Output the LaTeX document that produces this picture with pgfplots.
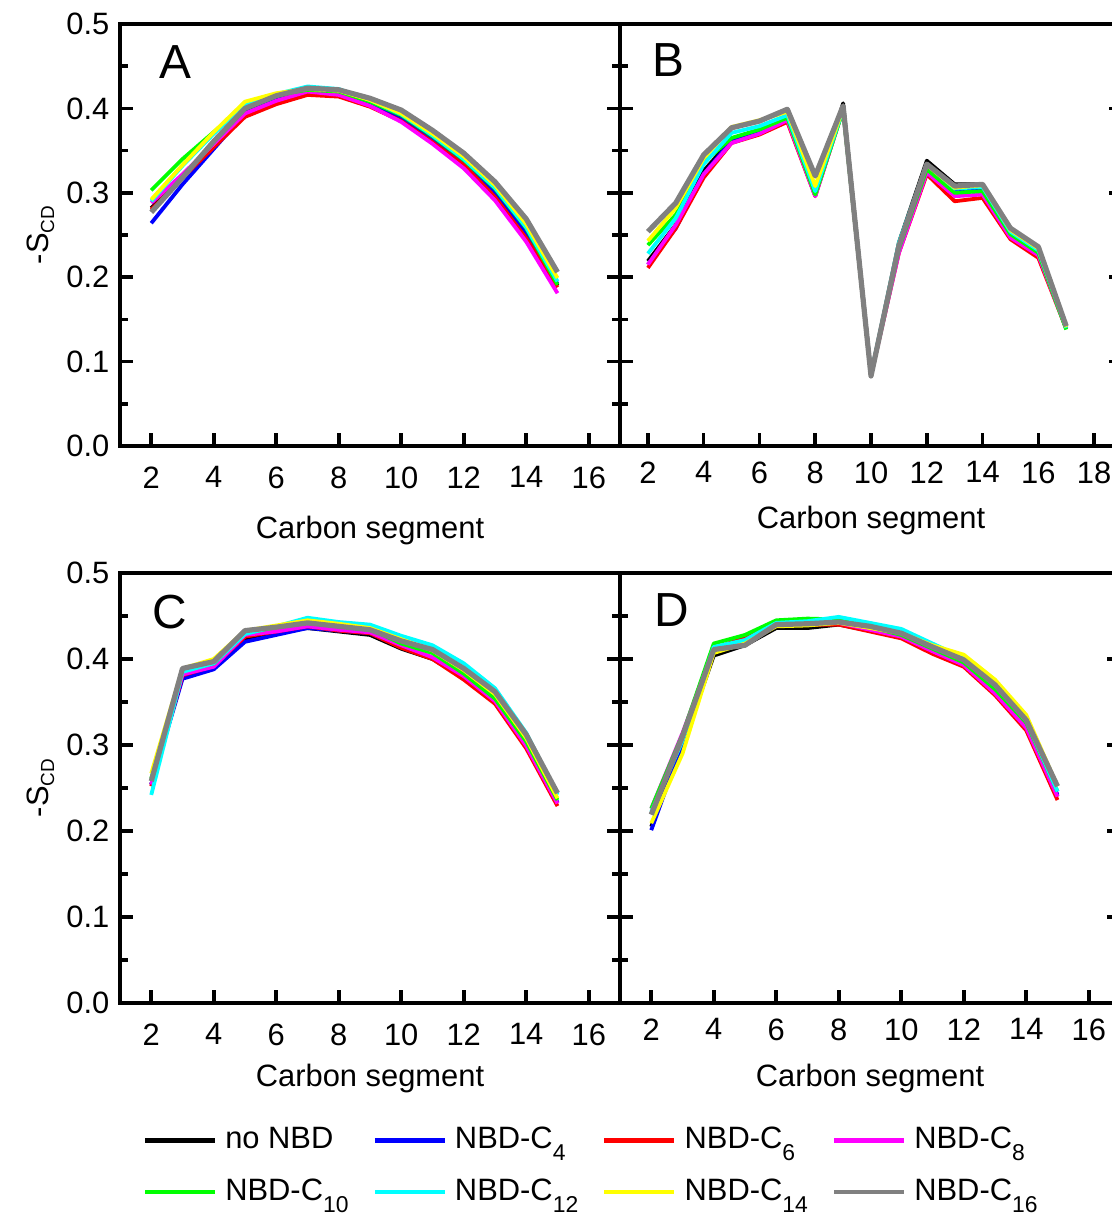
\documentclass[border=0pt]{standalone}
\usepackage{fontspec}
\setmainfont{Liberation Sans}
\usepackage{pgfplots}
\usepackage{pgfplotstable}
\pgfplotsset{compat=1.18}

\definecolor{cgray}{RGB}{128,128,128}
\definecolor{cgreen}{RGB}{0,255,0}
\definecolor{ccyan}{RGB}{0,255,255}
\definecolor{cyellow}{RGB}{255,255,0}
\definecolor{cmag}{RGB}{255,0,255}
\definecolor{cblue}{RGB}{0,0,255}
\definecolor{cred}{RGB}{255,0,0}

\newcommand{\sub}[1]{\raisebox{-6bp}{\fontsize{11.5}{12}\selectfont #1}}
\newcommand{\ysub}{\raisebox{-3bp}{\fontsize{9.5}{10}\selectfont CD}}

\pgfplotstableread{
x  k     b     r     m     g     c     y     gr
2  0.282 0.264 0.280 0.288 0.303 0.290 0.292 0.277
3  0.320 0.310 0.318 0.322 0.340 0.332 0.333 0.318
4  0.358 0.352 0.354 0.358 0.372 0.370 0.372 0.361
5  0.395 0.394 0.390 0.394 0.403 0.404 0.408 0.400
6  0.410 0.410 0.405 0.409 0.416 0.417 0.418 0.415
7  0.420 0.420 0.416 0.420 0.422 0.426 0.423 0.424
8  0.418 0.418 0.414 0.416 0.420 0.423 0.421 0.422
9  0.406 0.405 0.402 0.403 0.408 0.410 0.410 0.412
10 0.388 0.387 0.385 0.384 0.392 0.393 0.394 0.398
11 0.363 0.362 0.360 0.358 0.367 0.368 0.370 0.374
12 0.335 0.334 0.333 0.329 0.339 0.340 0.343 0.347
13 0.300 0.300 0.295 0.291 0.305 0.306 0.309 0.313
14 0.253 0.252 0.246 0.242 0.258 0.259 0.263 0.269
15 0.190 0.192 0.188 0.181 0.191 0.195 0.199 0.206
}\tA

\pgfplotstableread{
x  k     b     r     m     g     c     y     gr
2  0.219 0.215 0.211 0.215 0.238 0.228 0.243 0.254
3  0.262 0.258 0.258 0.262 0.274 0.270 0.282 0.288
4  0.326 0.322 0.318 0.322 0.336 0.334 0.341 0.345
5  0.363 0.362 0.359 0.359 0.365 0.371 0.378 0.377
6  0.372 0.371 0.369 0.370 0.375 0.379 0.386 0.385
7  0.387 0.386 0.384 0.386 0.389 0.392 0.396 0.399
8  0.298 0.297 0.296 0.296 0.298 0.302 0.308 0.320
9  0.406 0.401 0.399 0.399 0.398 0.399 0.400 0.403
10 0.084 0.084 0.084 0.084 0.084 0.084 0.083 0.083
11 0.241 0.236 0.229 0.229 0.234 0.241 0.238 0.237
12 0.338 0.332 0.322 0.324 0.328 0.334 0.333 0.334
13 0.310 0.304 0.290 0.296 0.300 0.305 0.306 0.308
14 0.310 0.306 0.294 0.298 0.302 0.307 0.309 0.310
15 0.254 0.252 0.245 0.247 0.251 0.254 0.256 0.258
16 0.231 0.230 0.223 0.226 0.229 0.232 0.234 0.236
17 0.141 0.140 0.139 0.139 0.138 0.140 0.141 0.142
}\tB

\pgfplotstableread{
x  k     b     r     m     g     c     y     gr
2  0.254 0.254 0.252 0.254 0.261 0.242 0.267 0.258
3  0.380 0.377 0.381 0.382 0.386 0.385 0.389 0.389
4  0.390 0.388 0.392 0.391 0.395 0.395 0.400 0.397
5  0.424 0.420 0.426 0.428 0.430 0.429 0.433 0.433
6  0.431 0.428 0.432 0.432 0.437 0.438 0.439 0.437
7  0.436 0.436 0.438 0.438 0.447 0.448 0.445 0.442
8  0.432 0.433 0.433 0.434 0.441 0.443 0.441 0.438
9  0.428 0.430 0.430 0.431 0.435 0.440 0.436 0.434
10 0.412 0.414 0.413 0.416 0.418 0.427 0.423 0.421
11 0.400 0.401 0.400 0.402 0.407 0.416 0.410 0.411
12 0.378 0.380 0.376 0.380 0.383 0.395 0.387 0.389
13 0.350 0.352 0.348 0.351 0.354 0.366 0.359 0.362
14 0.298 0.300 0.296 0.299 0.304 0.314 0.308 0.312
15 0.232 0.233 0.229 0.232 0.236 0.242 0.238 0.244
}\tC

\pgfplotstableread{
x  k     b     r     m     g     c     y     gr
2  0.205 0.201 0.220 0.226 0.226 0.222 0.209 0.219
3  0.300 0.302 0.308 0.314 0.312 0.305 0.290 0.310
4  0.404 0.410 0.412 0.412 0.418 0.414 0.407 0.411
5  0.416 0.420 0.425 0.422 0.428 0.422 0.418 0.416
6  0.436 0.440 0.440 0.441 0.445 0.442 0.438 0.440
7  0.436 0.440 0.440 0.441 0.447 0.444 0.439 0.441
8  0.440 0.442 0.440 0.442 0.446 0.449 0.442 0.443
9  0.433 0.434 0.432 0.434 0.437 0.442 0.436 0.438
10 0.425 0.426 0.424 0.426 0.428 0.435 0.430 0.430
11 0.408 0.410 0.406 0.409 0.412 0.418 0.416 0.414
12 0.393 0.394 0.391 0.393 0.396 0.401 0.405 0.399
13 0.362 0.364 0.358 0.360 0.365 0.370 0.376 0.370
14 0.322 0.324 0.317 0.320 0.326 0.328 0.335 0.329
15 0.240 0.242 0.236 0.240 0.246 0.246 0.252 0.252
}\tD

\newcommand{\eightplots}[1]{%
  \addplot[black] table[x=x,y=k]{#1};
  \addplot[cblue] table[x=x,y=b]{#1};
  \addplot[cred] table[x=x,y=r]{#1};
  \addplot[cmag] table[x=x,y=m]{#1};
  \addplot[cgreen] table[x=x,y=g]{#1};
  \addplot[ccyan] table[x=x,y=c]{#1};
  \addplot[cyellow] table[x=x,y=y]{#1};
  \addplot[cgray, line width=2.6bp] table[x=x,y=gr]{#1};
}

\pgfplotsset{
  panel/.style={
    scale only axis,
    axis line style={line width=1.8bp},
    tick style={line width=1.8bp, black},
    major tick length=6.5bp, minor tick length=4bp,
    tick align=inside,
    xtick pos=left,
    ymin=0, ymax=0.5,
    ytick={0,0.1,0.2,0.3,0.4,0.5},
    minor y tick num=1,
    /pgf/number format/assume math mode=true,
    yticklabel style={/pgf/number format/.cd, fixed, fixed zerofill, precision=1},
    every axis plot/.append style={line width=1.9bp, line join=round, mark=none},
    xlabel={Carbon segment},
    xlabel style={at={(axis description cs:0.5,0)}, anchor=base},
    ylabel style={at={([xshift=-36bp]axis description cs:0,0.5)}, anchor=base},
    clip=false,
  }
}

\begin{document}
\fontsize{15.5}{18}\selectfont
\begin{tikzpicture}
\useasboundingbox (0,0) rectangle (556bp,-608bp);

% Panel A
\begin{axis}[panel, at={(60bp,-223bp)}, anchor=south west,
  width=250bp, height=211bp, xmin=1, xmax=17, xtick={2,4,...,16},
  yticklabel pos=left, ylabel={-S\ysub},
  xticklabel style={yshift=-5bp}, xlabel style={yshift=-46bp}]
\eightplots{\tA}
\node[font=\fontsize{24}{26}\selectfont] at (axis description cs:0.11,0.91) {A};
\end{axis}

% Panel B
\begin{axis}[panel, at={(310bp,-223bp)}, anchor=south west,
  width=251bp, height=211bp, xmin=1, xmax=19, xtick={2,4,...,18},
  yticklabels={},
  xticklabel style={yshift=-2.5bp}, xlabel style={yshift=-41bp}]
\eightplots{\tB}
\node[font=\fontsize{24}{26}\selectfont] at (axis description cs:0.0956,0.915) {B};
\end{axis}

% Panel C
\begin{axis}[panel, at={(60bp,-501.5bp)}, anchor=south west,
  width=250bp, height=215bp, xmin=1, xmax=17, xtick={2,4,...,16},
  yticklabel pos=left, ylabel={-S\ysub},
  xticklabel style={yshift=-5bp}, xlabel style={yshift=-41.5bp},
  legend columns=4, legend cell align=left,
  legend image code/.code={\draw[#1, line width=2.2bp] (0bp,0bp) -- (35bp,0bp);},
  legend style={at={(axis description cs:0.045,-0.2884)}, anchor=north west,
    draw=none, fill=none, inner sep=0pt, row sep=12.5bp,
    nodes={inner sep=0pt},
    /tikz/every odd column/.append style={column sep=4bp},
    /tikz/every even column/.append style={column sep=12bp}}]
\eightplots{\tC}
\legend{no NBD, NBD-C\sub{4}, NBD-C\sub{6}, NBD-C\sub{8}, NBD-C\sub{10}, NBD-C\sub{12}, NBD-C\sub{14}, NBD-C\sub{16}}
\node[font=\fontsize{24}{26}\selectfont] at (axis description cs:0.10,0.909) {C};
\end{axis}

% Panel D
\begin{axis}[panel, at={(310bp,-501.5bp)}, anchor=south west,
  width=250bp, height=215bp, xmin=1, xmax=17, xtick={2,4,...,16},
  yticklabels={},
  xticklabel style={yshift=-2.5bp}, xlabel style={yshift=-41.5bp}]
\eightplots{\tD}
\node[font=\fontsize{24}{26}\selectfont] at (axis description cs:0.104,0.914) {D};
\end{axis}
\end{tikzpicture}
\end{document}
